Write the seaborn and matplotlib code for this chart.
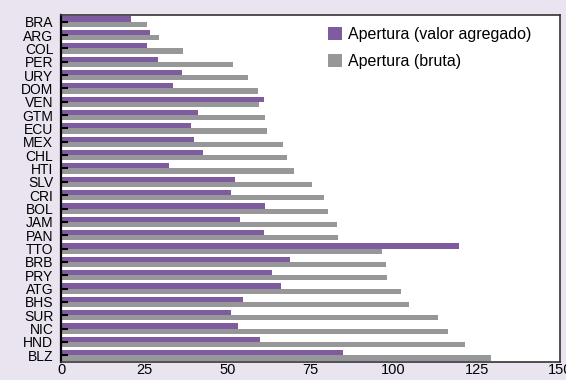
import matplotlib
matplotlib.use("Agg")
import matplotlib.pyplot as plt
import seaborn as sns
import pandas as pd

countries = ["BRA", "ARG", "COL", "PER", "URY", "DOM", "VEN", "GTM", "ECU", "MEX", "CHL", "HTI", "SLV",
             "CRI", "BOL", "JAM", "PAN", "TTO", "BRB", "PRY", "ATG", "BHS", "SUR", "NIC", "HND", "BLZ"]
valor_agregado = [21.1, 26.8, 25.9, 29.3, 36.5, 33.8, 60.9, 41.3, 39.2, 40.1, 42.8, 32.6, 52.2,
                  51.0, 61.2, 53.7, 60.9, 119.5, 68.8, 63.3, 66.1, 54.6, 51.0, 53.1, 59.7, 84.8]
bruta = [25.9, 29.6, 36.8, 51.6, 56.1, 59.1, 59.4, 61.2, 61.8, 66.7, 67.9, 70.0, 75.6,
         79.0, 80.2, 83.0, 83.3, 96.5, 97.7, 98.0, 102.3, 104.7, 113.4, 116.4, 121.3, 129.4]
series_names = ["Apertura (valor agregado)", "Apertura (bruta)"]
x_ticks = [0, 25, 50, 75, 100, 125, 150]

df = pd.DataFrame({
    "pais": countries * 2,
    "valor": valor_agregado + bruta,
    "serie": [series_names[0]] * len(countries) + [series_names[1]] * len(countries),
})

bg = "#E9E4F0"
fig = plt.figure(figsize=(5.66, 3.8), dpi=100, facecolor=bg)
ax = fig.add_axes([61 / 566, 18 / 380, 499 / 566, 347 / 380])
ax.set_facecolor("white")

palette = {series_names[0]: "#7F5BA0", series_names[1]: "#979799"}
sns.barplot(data=df, y="pais", x="valor", hue="serie", hue_order=series_names,
            order=countries, palette=palette, orient="h", width=0.78,
            saturation=1, ax=ax, legend=True)

ax.set_xlim(0, 150)
ax.set_ylim(len(countries) - 0.5, -0.5)
ax.set_xticks(x_ticks)
ax.set_xticklabels([str(t) for t in x_ticks], fontsize=10.5, family="Liberation Sans")
ax.set_yticks(range(len(countries)))
ax.set_yticklabels(countries, fontsize=10, family="Liberation Sans")
ax.set_xlabel("")
ax.set_ylabel("")
ax.tick_params(axis="x", length=0, pad=1)
ax.tick_params(axis="y", direction="in", length=5, width=1.5, color="black", pad=5.5)

for side in ["top", "right", "bottom"]:
    ax.spines[side].set_color("#333333")
    ax.spines[side].set_linewidth(1.2)
ax.spines["left"].set_color("black")
ax.spines["left"].set_linewidth(1.6)

handles, labels = ax.get_legend_handles_labels()
ax.legend(handles, labels, loc="upper left", bbox_to_anchor=(0.535, 0.965),
          frameon=False, handlelength=0.85, handleheight=0.85, handletextpad=0.4,
          labelspacing=0.75, borderpad=0, borderaxespad=0,
          prop={"family": "Liberation Sans", "size": 11.5})

fig.savefig("out.png", dpi=100, facecolor=bg)
